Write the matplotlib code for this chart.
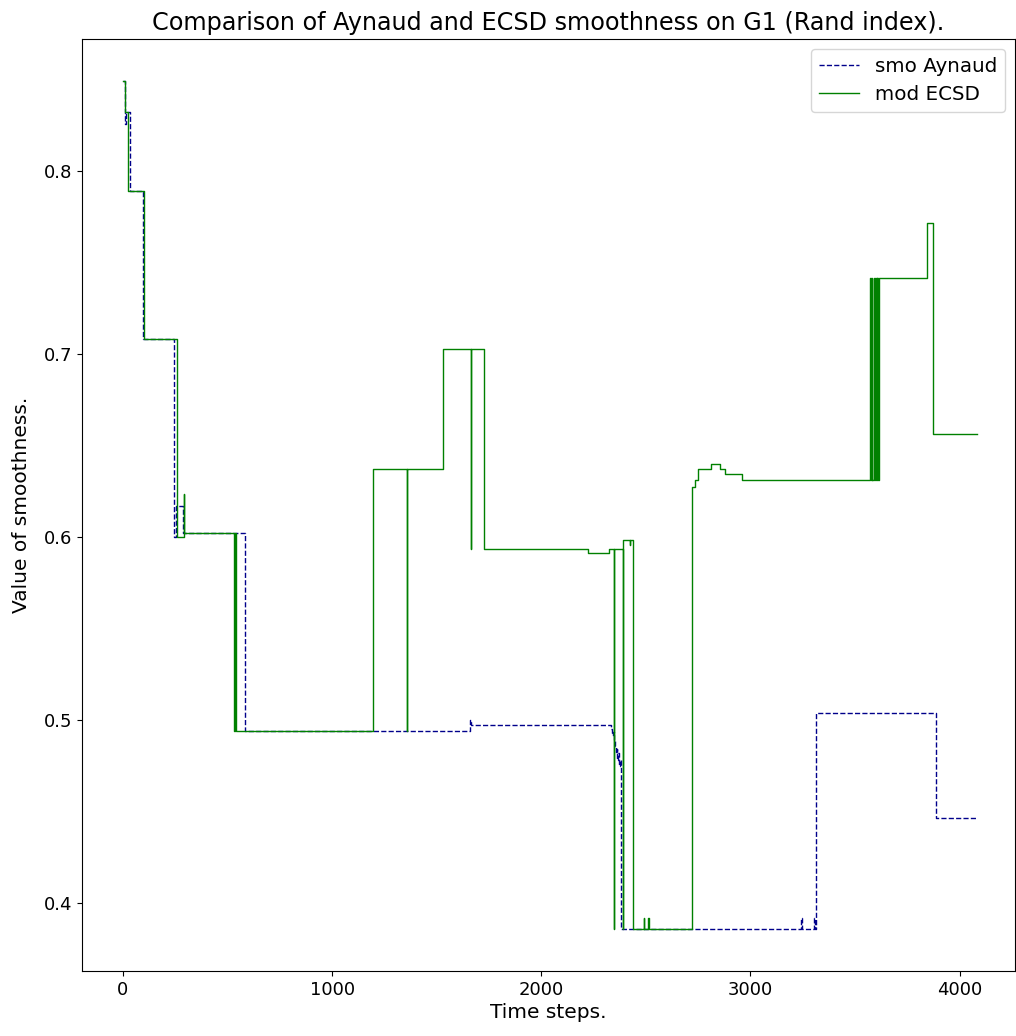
import matplotlib
matplotlib.use("Agg")
import matplotlib.pyplot as plt

# Change points (time step) and values for each series (step functions)
ecsd_t = [0, 8, 26, 100, 257, 291, 293, 530, 535, 540, 1195, 1357, 1359, 1529,
          1663, 1665, 1725, 2222, 2323, 2346, 2348, 2390, 2392, 2423, 2425, 2437,
          2490, 2492, 2512, 2514, 2718, 2734, 2749, 2810, 2852, 2877, 2958,
          3573, 3575, 3580, 3583, 3590, 3593, 3600, 3603, 3607, 3609, 3612,
          3844, 3873, 4085]
ecsd_v = [0.849, 0.832, 0.789, 0.708, 0.600, 0.6235, 0.602, 0.494, 0.602, 0.494,
          0.637, 0.494, 0.637, 0.7027,
          0.5934, 0.7027, 0.5934, 0.5913, 0.5934, 0.386, 0.5934, 0.386, 0.5985,
          0.5953, 0.5985, 0.386,
          0.392, 0.386, 0.392, 0.386, 0.6275, 0.6311, 0.6373, 0.6399, 0.6373,
          0.6341, 0.6313,
          0.7414, 0.6313, 0.7414, 0.6313, 0.7414, 0.6313, 0.7414, 0.6313, 0.7414,
          0.6313, 0.7414,
          0.7712, 0.6563, 0.6563]

aynaud_t = [0, 10, 15, 33, 97, 245, 252, 287, 583, 1661, 1665, 2334, 2338,
            2342, 2346, 2350, 2355, 2360, 2363, 2367, 2372, 2376, 2381, 3243,
            3245, 3305, 3307, 3312, 3885, 4085]
aynaud_v = [0.849, 0.8257, 0.832, 0.789, 0.708, 0.600, 0.617, 0.602, 0.494,
            0.500, 0.4974, 0.495, 0.492, 0.4935, 0.489, 0.486, 0.482, 0.484,
            0.478, 0.482, 0.475, 0.478, 0.386, 0.392, 0.386, 0.392, 0.386,
            0.5038, 0.4464, 0.4464]

fig = plt.figure(figsize=(10.16, 10.36), dpi=100)
ax = fig.add_axes([0.0807, 0.0627, 0.918, 0.9])

ax.step(aynaud_t, aynaud_v, where='post', color='darkblue', linestyle='--',
        linewidth=1.0, label='smo Aynaud')
ax.step(ecsd_t, ecsd_v, where='post', color='green', linestyle='-',
        linewidth=1.0, label='mod ECSD')

ax.set_xlim(-196, 4263)
ax.set_title('Comparison of Aynaud and ECSD smoothness on G1 (Rand index).',
             fontsize=17.2)
ax.set_xlabel('Time steps.', fontsize=14.5, labelpad=3)
ax.set_ylabel('Value of smoothness.', fontsize=14.5, labelpad=9)
ax.set_xticks([0, 1000, 2000, 3000, 4000])
ax.set_yticks([0.4, 0.5, 0.6, 0.7, 0.8])
ax.tick_params(labelsize=13)
ax.legend(loc='upper right', fontsize=14.3, handlelength=2.0)

fig.savefig('out.png', dpi=100)
